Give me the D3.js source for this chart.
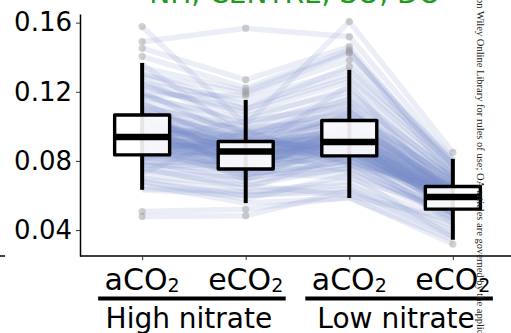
<!DOCTYPE html>
<html>
<head>
<meta charset="utf-8">
<script src="https://cdn.jsdelivr.net/npm/d3@7"></script>
<style>
body { margin: 0; background: #fff; }
svg { display: block; }
</style>
</head>
<body>
<script>
var w = 511;
var h = 333;

// categories and labels
var cats = ["aCO2 High", "eCO2 High", "aCO2 Low", "eCO2 Low"];
var catLabels = ["aCO", "eCO", "aCO", "eCO"];
var groups = ["High nitrate", "Low nitrate"];
var groupCats = [[0, 1], [2, 3]];
var yTicks = [0.04, 0.08, 0.12, 0.16];

// boxplot stats
var q1 = [0.0835, 0.0753, 0.0829, 0.0521];
var med = [0.0938, 0.0854, 0.0909, 0.0591];
var q3 = [0.1066, 0.0912, 0.1034, 0.0652];
var whiskLo = [0.0633, 0.0556, 0.0585, 0.0344];
var whiskHi = [0.1367, 0.1153, 0.1327, 0.0812];
var outliers = [
  [0.1577, 0.1490, 0.1452, 0.1405, 0.0507, 0.0479],
  [0.1568, 0.1269, 0.1222, 0.1205, 0.1190, 0.1180, 0.0520, 0.0483],
  [0.1606, 0.1519, 0.1461, 0.1442, 0.1430, 0.1423, 0.1384, 0.1346],
  [0.0849, 0.0319]
];

// individual trajectories (one value per category), estimated from the band
var lineA = [0.064,0.068,0.071,0.074,0.076,0.078,0.079,0.080,0.081,0.082,0.083,0.084,0.085,0.086,0.087,0.088,0.089,0.090,0.091,0.092,0.093,0.094,0.095,0.096,0.097,0.098,0.099,0.100,0.101,0.102,0.103,0.104,0.105,0.106,0.107,0.109,0.111,0.113,0.115,0.117,0.120,0.123,0.127,0.131,0.136,0.073,0.088,0.110,0.1577,0.1490,0.1452,0.1405,0.134,0.130,0.0507,0.0479,0.066,0.0633,0.125,0.118,0.122,
  0.084,0.090,0.096,0.102,0.088,0.094,0.100,0.106,0.086,0.092,0.098,0.104,0.082,0.108,0.091,0.095,0.099,0.087,0.103,0.093,0.097,0.085,0.101,0.089,0.112,0.078,0.118,0.075,0.124,0.070,0.114,0.081,0.105,0.092,0.083,0.110,0.096,0.100,0.090,0.107,0.119,0.077,0.087,0.094,0.098,0.102,0.086,0.093,0.129,0.068];
var lineB = [0.062,0.058,0.066,0.070,0.064,0.074,0.080,0.068,0.077,0.084,0.072,0.086,0.078,0.082,0.076,0.088,0.080,0.085,0.079,0.090,0.083,0.087,0.081,0.089,0.084,0.091,0.086,0.092,0.075,0.088,0.095,0.083,0.090,0.098,0.086,0.093,0.100,0.089,0.096,0.104,0.092,0.108,0.099,0.112,0.094,0.097,0.071,0.078,0.101,0.1568,0.1269,0.1222,0.1205,0.1190,0.0520,0.0483,0.0556,0.060,0.1153,0.1180,0.110,
  0.092,0.076,0.082,0.085,0.090,0.078,0.088,0.080,0.084,0.091,0.074,0.087,0.079,0.093,0.086,0.089,0.077,0.083,0.090,0.081,0.094,0.073,0.086,0.088,0.097,0.070,0.102,0.066,0.106,0.062,0.084,0.098,0.072,0.103,0.085,0.091,0.069,0.094,0.087,0.081,0.096,0.078,0.092,0.085,0.080,0.089,0.076,0.082,0.110,0.060];
var lineC = [0.066,0.072,0.060,0.078,0.084,0.070,0.088,0.076,0.082,0.092,0.080,0.074,0.086,0.095,0.083,0.090,0.098,0.087,0.081,0.094,0.089,0.100,0.085,0.091,0.103,0.093,0.088,0.106,0.084,0.097,0.110,0.092,0.101,0.114,0.096,0.105,0.118,0.099,0.108,0.122,0.112,0.126,0.104,0.130,0.116,0.079,0.102,0.073,0.1606,0.1519,0.1461,0.1442,0.1430,0.1423,0.059,0.063,0.0585,0.062,0.1327,0.1384,0.1346,
  0.086,0.096,0.084,0.090,0.104,0.093,0.082,0.098,0.089,0.087,0.101,0.094,0.091,0.085,0.107,0.092,0.088,0.099,0.083,0.095,0.102,0.086,0.097,0.090,0.109,0.080,0.115,0.076,0.120,0.068,0.124,0.078,0.080,0.112,0.100,0.088,0.092,0.077,0.108,0.094,0.102,0.087,0.096,0.085,0.091,0.099,0.093,0.089,0.128,0.064];
var lineD = [0.040,0.036,0.046,0.050,0.044,0.052,0.055,0.048,0.058,0.053,0.061,0.050,0.056,0.060,0.054,0.063,0.057,0.059,0.052,0.065,0.058,0.062,0.060,0.057,0.064,0.059,0.066,0.061,0.055,0.063,0.068,0.058,0.065,0.070,0.062,0.067,0.072,0.060,0.069,0.074,0.066,0.076,0.071,0.078,0.073,0.049,0.064,0.047,0.0849,0.081,0.075,0.070,0.079,0.077,0.0319,0.036,0.0344,0.038,0.080,0.081,0.078,
  0.062,0.054,0.063,0.058,0.066,0.051,0.060,0.064,0.057,0.055,0.061,0.067,0.059,0.053,0.062,0.060,0.056,0.065,0.058,0.061,0.063,0.052,0.059,0.064,0.068,0.050,0.070,0.047,0.072,0.044,0.058,0.066,0.062,0.057,0.069,0.054,0.049,0.063,0.071,0.060,0.067,0.055,0.058,0.061,0.056,0.064,0.059,0.062,0.075,0.042];

var svg = d3.select("body").append("svg")
  .attr("width", w)
  .attr("height", h);

var x = d3.scalePoint().domain(cats).range([80, 515]).padding(0.6);
var y = d3.scaleLinear().domain([0.025, 0.165]).range([256, 14]);

var font = "DejaVu Sans, Verdana, sans-serif";

// title of the panel, cut by the top edge
svg.append("text")
  .attr("x", 295).attr("y", 3)
  .attr("text-anchor", "middle")
  .style("font-family", font)
  .style("font-size", "28px")
  .style("fill", "#1f9a1f")
  .text("NH, CENTRE, SO, DO");

// trajectories
var rows = lineA.map(function(d, i) { return [lineA[i], lineB[i], lineC[i], lineD[i]]; });
var line = d3.line()
  .x(function(d, i) { return x(cats[i]); })
  .y(function(d) { return y(d); });

svg.append("g").selectAll("path").data(rows).enter()
  .append("path")
  .attr("d", line)
  .attr("fill", "none")
  .attr("stroke", "#7c90c6")
  .attr("stroke-opacity", 0.15)
  .attr("stroke-width", 5.5);

// boxplots
var bw = 55;
var boxes = svg.append("g").selectAll("g").data(cats).enter().append("g");

boxes.append("line")
  .attr("x1", function(d) { return x(d); })
  .attr("x2", function(d) { return x(d); })
  .attr("y1", function(d, i) { return y(whiskHi[i]); })
  .attr("y2", function(d, i) { return y(whiskLo[i]); })
  .attr("stroke", "#000")
  .attr("stroke-width", 4);

boxes.selectAll("circle").data(function(d, i) { return outliers[i].map(function(v) { return [d, v]; }); })
  .enter().append("circle")
  .attr("cx", function(d) { return x(d[0]); })
  .attr("cy", function(d) { return y(d[1]); })
  .attr("r", 3.6)
  .attr("fill", "#9a9a9a")
  .attr("fill-opacity", 0.45);

boxes.append("rect")
  .attr("x", function(d) { return x(d) - bw / 2; })
  .attr("y", function(d, i) { return y(q3[i]); })
  .attr("width", bw)
  .attr("height", function(d, i) { return y(q1[i]) - y(q3[i]); })
  .attr("fill", "#fff")
  .attr("fill-opacity", 0.9)
  .attr("stroke", "#000")
  .attr("stroke-width", 3.4)
  .attr("stroke-linejoin", "round");

boxes.append("line")
  .attr("x1", function(d) { return x(d) - bw / 2; })
  .attr("x2", function(d) { return x(d) + bw / 2; })
  .attr("y1", function(d, i) { return y(med[i]); })
  .attr("y2", function(d, i) { return y(med[i]); })
  .attr("stroke", "#000")
  .attr("stroke-width", 6.5);

// axes
var yAxis = svg.append("g")
  .attr("transform", "translate(80,0)")
  .call(d3.axisLeft(y).tickValues(yTicks).tickFormat(d3.format(".2f")).tickSize(4).tickPadding(4).tickSizeOuter(0));
yAxis.select(".domain").attr("stroke", "#000").attr("stroke-width", 1.5);
yAxis.selectAll(".tick line").attr("stroke", "#333");
yAxis.selectAll(".tick text")
  .style("font-family", font)
  .style("font-size", "26px")
  .attr("fill", "#000");

var xAxis = svg.append("g")
  .attr("transform", "translate(0,256)")
  .call(d3.axisBottom(x).tickFormat("").tickSize(4).tickSizeOuter(0));
xAxis.select(".domain").attr("stroke", "#000").attr("stroke-width", 1.5)
  .attr("d", "M80,0H511");
xAxis.selectAll(".tick line").attr("stroke", "#333");

var xl = svg.append("g").selectAll("text").data(cats).enter()
  .append("text")
  .attr("x", function(d) { return x(d); })
  .attr("y", 290)
  .attr("text-anchor", "middle")
  .style("font-family", font)
  .style("font-size", "30px");
xl.append("tspan").text(function(d, i) { return catLabels[i]; });
xl.append("tspan").attr("dy", 2).style("font-size", "19px").text("2");

// group bars and labels
groupCats.forEach(function(g, i) {
  var x0 = x(cats[g[0]]) - 44;
  var x1 = x(cats[g[1]]) + 40;
  svg.append("line")
    .attr("x1", x0).attr("x2", x1)
    .attr("y1", 298.5).attr("y2", 298.5)
    .attr("stroke", "#000")
    .attr("stroke-width", 4);
  svg.append("text")
    .attr("x", (x0 + x1) / 2 - 3)
    .attr("y", 328)
    .attr("text-anchor", "middle")
    .style("font-family", font)
    .style("font-size", "28px")
    .text(groups[i]);
});

// stray axis from the neighbouring panel
svg.append("line")
  .attr("x1", 0).attr("x2", 5).attr("y1", 256).attr("y2", 256)
  .attr("stroke", "#000").attr("stroke-width", 1.5);

// publisher side note
svg.append("text")
  .attr("transform", "translate(477,-2) rotate(90)")
  .style("font-family", "Liberation Serif, Times New Roman, serif")
  .style("font-size", "10.5px")
  .attr("fill", "#222")
  .text("on Wiley Online Library for rules of use; OA articles are governed by the applicable Creative Commons License");
</script>
</body>
</html>
